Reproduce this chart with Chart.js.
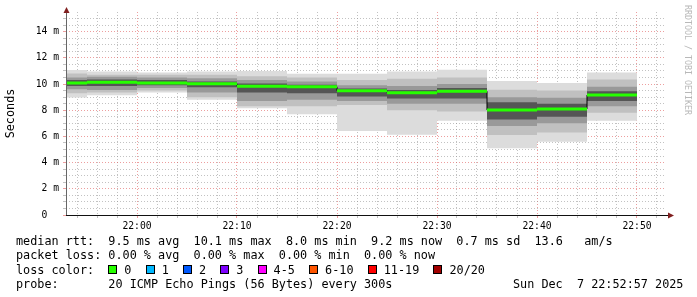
<!DOCTYPE html>
<html><head><meta charset="utf-8">
<script src="https://cdn.jsdelivr.net/npm/chart.js@4.4.1/dist/chart.umd.min.js"></script>
<style>
html,body{margin:0;padding:0;background:#fff;}
#wrap{position:relative;width:697px;height:297px;overflow:hidden;background:#fff;}
#c{position:absolute;left:0;top:0;}
.row{position:absolute;left:16px;font-family:"DejaVu Sans Mono",monospace;font-size:11.8px;line-height:14.5px;white-space:pre;color:#000;}
.box{display:inline-block;width:7px;height:7px;border:1px solid #000;margin-right:7px;}
#wm{position:absolute;left:683px;top:5px;writing-mode:vertical-rl;font-family:"DejaVu Sans Mono",monospace;font-size:8.3px;line-height:10px;color:#b8b8b8;white-space:pre;}
</style></head>
<body>
<div id="wrap">
<canvas id="c" width="697" height="297"></canvas>
<div class="row" style="top:233.5px">median rtt:  9.5 ms avg  10.1 ms max  8.0 ms min  9.2 ms now  0.7 ms sd  13.6   am/s</div>
<div class="row" style="top:248px">packet loss: 0.00 % avg  0.00 % max  0.00 % min  0.00 % now</div>
<div class="row" id="lossrow" style="top:262.5px"></div>
<div class="row" style="top:277px">probe:       20 ICMP Echo Pings (56 Bytes) every 300s</div>
<div class="row" style="top:277px;left:513px">Sun Dec  7 22:52:57 2025</div>
<div id="wm">RRDTOOL / TOBI OETIKER</div>
</div>
<script>
// ---- data ----
const stepEnds = ['21:55','22:00','22:05','22:10','22:15','22:20','22:25','22:30','22:35','22:40','22:45','22:50'];
const medianRtt = [10.08,10.13,10.08,10.02,9.84,9.79,9.49,9.34,9.45,8.02,8.10,9.16];
const pingMin = [8.97,9.15,9.35,8.80,8.16,7.70,6.42,6.12,7.20,5.10,5.60,7.20];
const ping10  = [9.30,9.35,9.50,9.00,8.30,8.30,8.40,8.00,7.90,6.10,6.30,7.80];
const ping25  = [9.60,9.55,9.70,9.35,8.70,8.80,8.70,8.50,8.50,6.80,7.00,8.30];
const ping40  = [9.85,9.85,9.90,9.75,9.35,9.30,9.05,8.90,8.90,7.30,7.50,8.70];
const ping60  = [10.30,10.35,10.30,10.20,10.05,9.95,9.65,9.55,9.70,8.60,8.50,9.45];
const ping75  = [10.50,10.55,10.50,10.45,10.30,10.20,9.90,9.85,10.00,9.00,8.95,9.80];
const ping90  = [10.80,10.70,10.70,10.70,10.60,10.50,10.30,10.40,10.50,9.56,9.50,10.35];
const pingMax = [11.08,10.96,10.88,10.96,11.00,10.78,10.78,10.96,11.10,10.24,10.07,10.88];
const timeLabels = ['22:00','22:10','22:20','22:30','22:40','22:50'];
const yTickValues = [0,2,4,6,8,10,12,14];
const yTickLabels = ['0  ','2 m','4 m','6 m','8 m','10 m','12 m','14 m'];
const lossLabels = ['0','1','2','3','4-5','6-10','11-19','20/20'];
const lossColors = ['#26ff00','#00b8ff','#0059ff','#7e00ff','#ff00ff','#ff5500','#ff0000','#a10000'];
const viewStart = '21:52:54', viewEnd = '22:52:54';
const STEP_MIN = 5;

// ---- legend row ----
const lr = document.getElementById('lossrow');
lr.appendChild(document.createTextNode('loss color:  '));
lossLabels.forEach((l,i)=>{
  const b=document.createElement('span'); b.className='box'; b.style.background=lossColors[i]; lr.appendChild(b);
  lr.appendChild(document.createTextNode(l + (i<lossLabels.length-1?'  ':'')));
});

// ---- helpers ----
const toMin = s => { const p = s.split(':').map(Number); return (p[0]-21)*60 + p[1] + (p[2]||0)/60; };
const ends = stepEnds.map(toMin);
// each value holds for the step that ends at its timestamp (horizontal first, then vertical)
const stepPts = arr => ends.map((e,i)=>({x: e - STEP_MIN, y: arr[i]})).concat([{x: ends[ends.length-1], y: arr[arr.length-1]}]);
const medianSegs = [];
ends.forEach((e,i)=>{ medianSegs.push({x:e-STEP_MIN,y:medianRtt[i]},{x:e,y:medianRtt[i]},{x:e,y:null}); });
const labelMins = timeLabels.map(toMin);
const xGrid = []; for (let m = Math.ceil(toMin(viewStart)/2)*2; m < toMin(viewEnd); m += 2) xGrid.push(m);
const yGrid = []; for (let v = 0; v <= 15; v += 0.5) yGrid.push(v);

const minorCol = 'rgba(143,143,143,0.55)';
const majorCol = 'rgba(222,79,79,0.55)';
const monoFont = '"DejaVu Sans Mono", monospace';

const lowerEdge = (arr, order) => ({data: stepPts(arr), stepped:'before', borderWidth:0, pointRadius:0, fill:false, order});
const upperEdge = (arr, color, order) => ({data: stepPts(arr), stepped:'before', borderWidth:0, pointRadius:0, fill:'-1', backgroundColor: color, order});

const axesPlugin = {
  id: 'rrdAxes',
  afterDraw(chart){
    const {ctx, chartArea:a} = chart;
    ctx.save();
    ctx.lineWidth = 1;
    ctx.strokeStyle = '#666';
    ctx.beginPath(); ctx.moveTo(a.left+0.5, a.bottom); ctx.lineTo(a.left+0.5, a.top-2); ctx.stroke();
    ctx.strokeStyle = '#111';
    ctx.beginPath(); ctx.moveTo(a.left, a.bottom+0.5); ctx.lineTo(a.right+2, a.bottom+0.5); ctx.stroke();
    ctx.fillStyle = '#801f1f';
    ctx.beginPath(); ctx.moveTo(a.left+0.5, a.top-5); ctx.lineTo(a.left-2.5, a.top+1); ctx.lineTo(a.left+3.5, a.top+1); ctx.closePath(); ctx.fill();
    ctx.beginPath(); ctx.moveTo(a.right+8, a.bottom+0.5); ctx.lineTo(a.right+2, a.bottom-2.5); ctx.lineTo(a.right+2, a.bottom+3.5); ctx.closePath(); ctx.fill();
    ctx.restore();
  }
};

new Chart(document.getElementById('c'), {
  type: 'line',
  data: { datasets: [
    lowerEdge(pingMin, 20), upperEdge(pingMax, '#dcdcdc', 19),
    lowerEdge(ping10, 18),  upperEdge(ping90, '#c0c0c0', 17),
    lowerEdge(ping25, 16),  upperEdge(ping75, '#999999', 15),
    lowerEdge(ping40, 14),  upperEdge(ping60, '#555555', 13),
    {data: stepPts(medianRtt), stepped:'before', borderColor:'#000', borderWidth:1, pointRadius:0, fill:false, order:2},
    {data: medianSegs, borderColor:'#26ff00', borderWidth:3, borderCapStyle:'butt', pointRadius:0, spanGaps:false, fill:false, order:1}
  ]},
  options: {
    responsive: false, animation: false, events: [],
    layout: { padding: { left: 0, top: 12, right: 31, bottom: 0 } },
    plugins: { legend: {display:false}, tooltip: {enabled:false} },
    scales: {
      x: {
        type: 'linear', min: toMin(viewStart), max: toMin(viewEnd), offset: false, z: 1,
        afterBuildTicks: s => { s.ticks = xGrid.map(v=>({value:v})); },
        afterFit: s => { s.height = 82; },
        ticks: { autoSkip:false, maxRotation:0, padding:3, color:'#000',
          font:{family: monoFont, size: 9.7},
          callback: v => { const i = labelMins.indexOf(v); return i >= 0 ? timeLabels[i] : ''; } },
        grid: { offset:false, lineWidth:1, tickLength:3, drawTicks:true,
          color: c => (c.tick && labelMins.includes(c.tick.value)) ? majorCol : minorCol },
        border: { display:false, dash:[1,2] }
      },
      y: {
        type: 'linear', min: 0, max: 15.5, z: 1,
        afterBuildTicks: s => { s.ticks = yGrid.map(v=>({value:v})); },
        afterFit: s => { s.width = 66; },
        ticks: { autoSkip:false, padding:4, color:'#000', font:{family: monoFont, size: 9.7},
          callback: v => { const i = yTickValues.indexOf(v); return i >= 0 ? yTickLabels[i] : ''; } },
        grid: { lineWidth:1, tickLength:3, drawTicks:true,
          color: c => (c.tick && yTickValues.includes(c.tick.value)) ? majorCol : minorCol },
        border: { display:false, dash:[1,2] },
        title: { display:true, text:'Seconds', color:'#000', font:{family: monoFont, size: 11.8}, padding:{top:4, bottom:0} }
      }
    }
  },
  plugins: [axesPlugin]
});
</script>
</body></html>
